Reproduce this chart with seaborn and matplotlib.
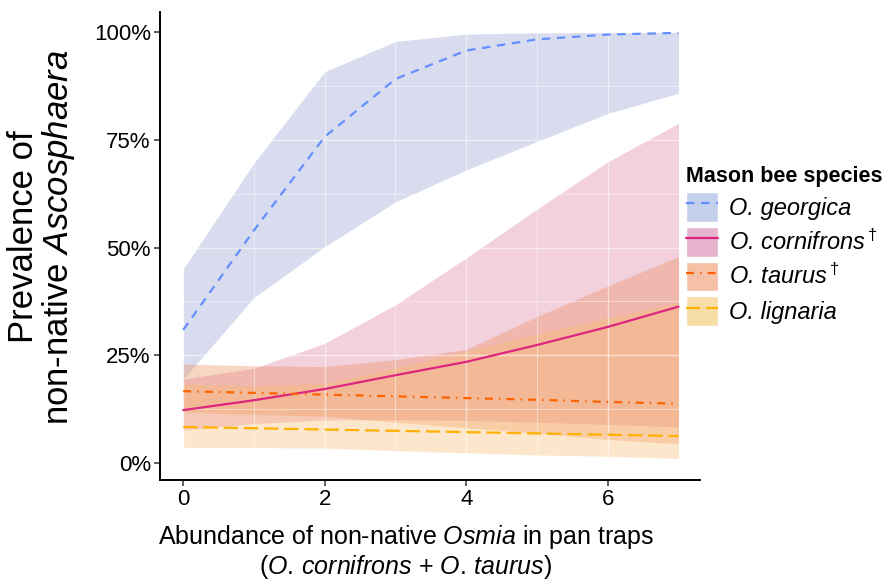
import numpy as np
import pandas as pd
import matplotlib
matplotlib.use("Agg")
import matplotlib.pyplot as plt
import seaborn as sns
from matplotlib.patches import Patch
from matplotlib.lines import Line2D
from matplotlib.ticker import MultipleLocator, PercentFormatter

# abundance of non-native Osmia (x axis)
abundance = [0, 1, 2, 3, 4, 5, 6, 7]

# predicted prevalence (%) and 95% band
georgica_fit = [30.9, 54.0, 75.7, 89.1, 95.7, 98.3, 99.4, 99.8]
georgica_lo = [19.5, 38.4, 50.2, 60.6, 68.0, 74.6, 81.1, 85.8]
georgica_hi = [45.0, 69.6, 90.8, 97.8, 99.5, 99.8, 99.9, 100.0]

cornifrons_fit = [12.3, 14.6, 17.2, 20.4, 23.5, 27.4, 31.6, 36.3]
cornifrons_lo = [7.7, 9.2, 10.0, 10.1, 9.9, 9.5, 9.0, 8.4]
cornifrons_hi = [19.5, 22.0, 27.8, 36.7, 47.6, 58.9, 69.9, 78.8]

taurus_fit = [16.7, 16.3, 15.9, 15.5, 15.1, 14.7, 14.2, 13.8]
taurus_lo = [11.9, 11.3, 10.9, 9.5, 8.2, 7.0, 5.5, 4.5]
taurus_hi = [23.0, 22.6, 22.4, 24.0, 26.4, 34.0, 41.1, 47.9]

lignaria_fit = [8.4, 8.1, 7.8, 7.5, 7.2, 6.9, 6.6, 6.3]
lignaria_lo = [3.6, 3.6, 3.5, 2.9, 2.4, 1.9, 1.6, 1.1]
lignaria_hi = [18.4, 17.9, 18.5, 22.0, 26.0, 29.9, 33.7, 37.2]

species = ["O. georgica", "O. cornifrons", "O. taurus", "O. lignaria"]
legend_labels = [
    "O. georgica",
    "O. cornifrons$\\,^{\\dagger}$",
    "O. taurus$\\,^{\\dagger}$",
    "O. lignaria",
]
line_colors = ["#648FFF", "#DC267F", "#FE6100", "#FFB000"]
fill_colors = ["#929bd1", "#da799b", "#eb8a56", "#fcbd6d"]
key_colors = ["#c5d0ec", "#e6b4cd", "#f5c0a5", "#f7dda8"]
dash_styles = [(3.8, 3.0), "", (3.6, 2.7, 0.7, 2.7), (6.4, 2.7)]

fits = [georgica_fit, cornifrons_fit, taurus_fit, lignaria_fit]
lows = [georgica_lo, cornifrons_lo, taurus_lo, lignaria_lo]
highs = [georgica_hi, cornifrons_hi, taurus_hi, lignaria_hi]

df = pd.concat(
    [
        pd.DataFrame({"abundance": abundance, "prevalence": f, "lo": lo, "hi": hi, "species": sp})
        for sp, f, lo, hi in zip(species, fits, lows, highs)
    ],
    ignore_index=True,
)

sns.set_theme(style="white")
plt.rcParams["font.family"] = ["Liberation Sans", "DejaVu Sans"]
plt.rcParams["text.color"] = "black"
plt.rcParams["axes.labelcolor"] = "black"
plt.rcParams["mathtext.fontset"] = "custom"
plt.rcParams["mathtext.rm"] = "Liberation Sans"
plt.rcParams["mathtext.it"] = "Liberation Sans:italic"
plt.rcParams["mathtext.bf"] = "Liberation Sans:bold"

fig = plt.figure(figsize=(8.88, 5.79), dpi=100)
ax = fig.add_axes([0.180, 0.171, 0.608, 0.808])

# confidence ribbons
for sp, fc in zip(species, fill_colors):
    sub = df[df["species"] == sp]
    ax.fill_between(sub["abundance"], sub["lo"], sub["hi"], color=fc, alpha=0.35, lw=0)

sns.lineplot(
    data=df,
    x="abundance",
    y="prevalence",
    hue="species",
    style="species",
    palette=dict(zip(species, line_colors)),
    dashes=dict(zip(species, dash_styles)),
    hue_order=species,
    linewidth=1.6,
    legend=False,
    ax=ax,
)

ax.set_xlim(-0.33, 7.3)
ax.set_ylim(-3.9, 104.6)
ax.xaxis.set_major_locator(MultipleLocator(2))
ax.xaxis.set_minor_locator(MultipleLocator(1))
ax.yaxis.set_major_locator(MultipleLocator(25))
ax.yaxis.set_minor_locator(MultipleLocator(12.5))
ax.yaxis.set_major_formatter(PercentFormatter(decimals=0))

ax.set_axisbelow("line")
ax.grid(which="major", color="white", alpha=0.55, lw=1.0)
ax.grid(which="minor", color="white", alpha=0.45, lw=0.7)

for side in ["top", "right"]:
    ax.spines[side].set_visible(False)
for side in ["left", "bottom"]:
    ax.spines[side].set_color("black")
    ax.spines[side].set_linewidth(1.4)

ax.tick_params(axis="both", which="major", direction="out", length=4, width=1.1,
               color="#333333", labelsize=16, labelcolor="black", pad=2.5,
               left=True, bottom=True)
ax.tick_params(which="minor", length=0)

ax.set_ylabel("Prevalence of\nnon-native $\\mathit{Ascosphaera}$", fontsize=25,
              linespacing=1.0)
ax.yaxis.set_label_coords(-0.153, 0.52)
ax.set_xlabel(
    "Abundance of non-native $\\mathit{Osmia}$ in pan traps\n"
    "($\\mathit{O.\\,cornifrons}$ + $\\mathit{O.\\,taurus}$)",
    fontsize=18, linespacing=1.05, va="top",
)
ax.xaxis.set_label_coords(0.455, -0.093)

handles = []
for kc, lc, ds in zip(key_colors, line_colors, dash_styles):
    if ds:
        ln = Line2D([], [], color=lc, lw=1.6, dashes=ds)
    else:
        ln = Line2D([], [], color=lc, lw=1.6)
    handles.append((Patch(facecolor=kc, edgecolor="white", lw=1.0), ln))

leg = fig.legend(
    handles,
    legend_labels,
    title="Mason bee species",
    loc="upper left",
    bbox_to_anchor=(686 / 888, 1 - 166 / 579),
    frameon=False,
    prop={"style": "italic", "size": 17},
    title_fontproperties={"weight": "bold", "size": 15.5},
    handlelength=1.35,
    handleheight=1.55,
    labelspacing=0.22,
    handletextpad=0.45,
    borderpad=0,
    borderaxespad=0,
    alignment="left",
)

fig.savefig("out.png", dpi=100)
